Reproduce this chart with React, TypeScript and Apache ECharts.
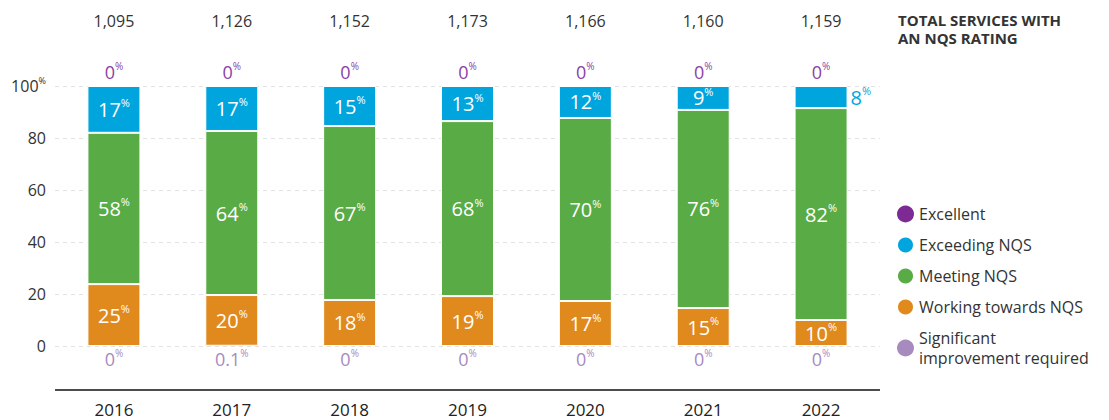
import React, { useEffect, useRef } from "react";
import * as echarts from "echarts";

const years = ["2016", "2017", "2018", "2019", "2020", "2021", "2022"];
const totals = ["1,095", "1,126", "1,152", "1,173", "1,166", "1,160", "1,159"];

// Bar heights (percent of services)
const significant = [0, 0.1, 0, 0, 0, 0, 0];
const working = [23.8, 19.5, 17.7, 19.2, 17.3, 14.6, 10.0];
const meeting = [58.2, 63.1, 66.9, 67.3, 70.4, 76.2, 81.5];
const exceeding = [18.0, 17.3, 15.4, 13.5, 12.3, 9.2, 8.5];
const excellent = [0, 0, 0, 0, 0, 0, 0];

// Printed labels
const significantLabels = ["0", "0.1", "0", "0", "0", "0", "0"];
const workingLabels = ["25", "20", "18", "19", "17", "15", "10"];
const meetingLabels = ["58", "64", "67", "68", "70", "76", "82"];
const exceedingLabels = ["17", "17", "15", "13", "12", "9", "8"];
const excellentLabels = ["0", "0", "0", "0", "0", "0", "0"];

const yTicks = [0, 20, 40, 60, 80, 100];

const FONT = "'Open Sans', 'Noto Sans', sans-serif";
const C_EXC = "#7d2a94";
const C_EXCEED = "#00a5de";
const C_MEET = "#58ab45";
const C_WORK = "#e08a1e";
const C_SIG = "#a78bbf";

const NAME_SIG = "Significant\nimprovement required";

function rich(color: string, size: number, weight: number | string) {
  return {
    n: { fontSize: size, color, fontFamily: FONT, fontWeight: weight, lineHeight: size + 4 },
    p: { fontSize: Math.round(size * 0.55), color, fontFamily: FONT, fontWeight: weight, verticalAlign: "top", lineHeight: size + 4 },
  };
}

export default function App() {
  const ref = useRef<HTMLDivElement>(null);
  useEffect(() => {
    if (!ref.current) return;
    const chart = echarts.init(ref.current, null, { renderer: "svg" });
    const fmt = (labels: string[]) => (p: any) => `{n|${labels[p.dataIndex]}}{p|%}`;
    const inBar = (labels: string[]) => ({
      show: true,
      position: "inside",
      formatter: fmt(labels),
      rich: rich("#ffffff", 20, 500),
    });
    const exceedData = exceeding.map((v, i) =>
      i === years.length - 1
        ? { value: v, label: { position: "right", distance: 3, rich: rich(C_EXCEED, 20, 500) } }
        : v
    );
    const barCommon = {
      type: "bar",
      stack: "all",
      barWidth: 53,
      itemStyle: { borderColor: "#ffffff", borderWidth: 1 },
    };
    chart.setOption({
      animation: false,
      grid: { left: 55, right: 229, top: 86, bottom: 74 },
      xAxis: [
        {
          type: "category",
          data: years,
          axisLine: { show: false },
          axisTick: { show: false },
          axisLabel: { margin: 55, fontSize: 17, color: "#222", fontFamily: FONT },
        },
        {
          type: "category",
          position: "top",
          data: totals,
          axisLine: { show: false },
          axisTick: { show: false },
          axisLabel: { margin: 57, fontSize: 16, color: "#333", fontFamily: FONT },
        },
      ],
      yAxis: {
        type: "value",
        min: yTicks[0],
        max: yTicks[yTicks.length - 1],
        interval: 20,
        axisLine: { show: false },
        axisTick: { show: false },
        splitLine: { lineStyle: { type: [4, 4], color: "#e2e2e2" } },
        axisLabel: {
          margin: 9,
          color: "#333",
          fontFamily: FONT,
          fontSize: 16,
          formatter: (v: number) => (v === 100 ? `{n|${v}}{p|%}` : `{n|${v}}`),
          rich: {
            n: { fontSize: 16, color: "#333", fontFamily: FONT, lineHeight: 20 },
            p: { fontSize: 9, color: "#333", fontFamily: FONT, verticalAlign: "top", lineHeight: 20 },
          },
        },
      },
      legend: {
        orient: "vertical",
        left: 896,
        top: 204,
        height: 210,
        padding: 0,
        icon: "circle",
        itemWidth: 17,
        itemHeight: 17,
        itemGap: 11,
        textStyle: { fontSize: 16, color: "#333", fontFamily: FONT, lineHeight: 20 },
        data: ["Excellent", "Exceeding NQS", "Meeting NQS", "Working towards NQS", NAME_SIG],
      },
      graphic: [
        {
          type: "text",
          left: 898,
          top: 11,
          style: {
            text: "TOTAL SERVICES WITH\nAN NQS RATING",
            fontSize: 15,
            fontWeight: 700,
            lineHeight: 18,
            fill: "#333",
            fontFamily: FONT,
          },
        },
        {
          type: "line",
          shape: { x1: 55, y1: 390, x2: 880, y2: 390 },
          style: { stroke: "#111", lineWidth: 1.5 },
        },
      ],
      series: [
        {
          ...barCommon,
          name: NAME_SIG,
          data: significant,
          itemStyle: { color: C_SIG },
          label: { show: true, position: "bottom", distance: 2, formatter: fmt(significantLabels), rich: rich(C_SIG, 18, 400) },
        },
        { ...barCommon, name: "Working towards NQS", data: working, itemStyle: { ...barCommon.itemStyle, color: C_WORK }, label: inBar(workingLabels) },
        { ...barCommon, name: "Meeting NQS", data: meeting, itemStyle: { ...barCommon.itemStyle, color: C_MEET }, label: inBar(meetingLabels) },
        { ...barCommon, name: "Exceeding NQS", data: exceedData, itemStyle: { ...barCommon.itemStyle, color: C_EXCEED }, label: inBar(exceedingLabels) },
        {
          ...barCommon,
          name: "Excellent",
          data: excellent,
          itemStyle: { color: C_EXC },
          label: { show: true, position: "top", distance: 3, formatter: fmt(excellentLabels), rich: rich("#8b3fa5", 18, 400) },
        },
      ],
    });
    return () => chart.dispose();
  }, []);
  return <div ref={ref} style={{ width: 1109, height: 420, position: "absolute", left: 0, top: 0 }} />;
}
